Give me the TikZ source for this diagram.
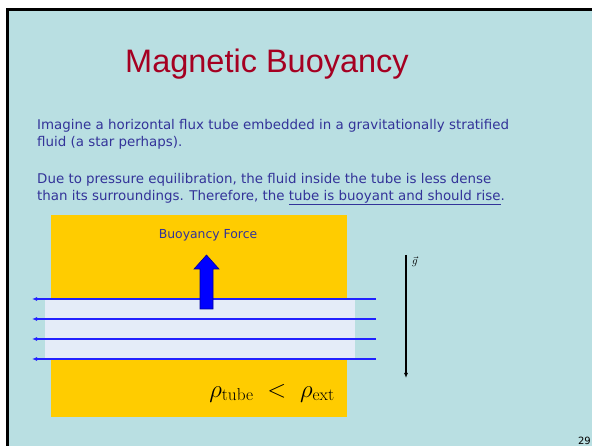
\documentclass[tikz,border=0pt]{standalone}
\usepackage[no-math]{fontspec}
\setmainfont{Liberation Sans}
\newfontfamily\bodyfont{DejaVu Sans}
\usetikzlibrary{arrows.meta,positioning,calc}
\definecolor{SlideBG}{HTML}{B9DFE2}
\definecolor{TitleRed}{HTML}{A50021}
\definecolor{TextBlue}{HTML}{333399}
\definecolor{StarGold}{HTML}{FFCC00}
\definecolor{TubeFill}{HTML}{E4ECF8}
\definecolor{FieldBlue}{HTML}{2222FF}

\begin{document}
\begin{tikzpicture}[x=1pt, y=-1pt,
    bodytext/.style={anchor=north west, align=left, inner sep=0pt,
                     text=TextBlue, font=\bodyfont\fontsize{13.4}{17}\selectfont},
    fieldline/.style={draw=FieldBlue, line width=1.4pt,
                      -{Latex[length=5pt,width=4pt]}}]
    \useasboundingbox (0,0) rectangle (592,446);
    \fill[white] (0,0) rectangle (592,446);
    \draw[line width=3pt, fill=SlideBG] (7.5,9.5) rectangle (610,460);

    % title and text
    \node[text=TitleRed, font=\fontsize{32.5}{33}\selectfont] (title) at (267,64)
      {Magnetic Buoyancy};
    \node[bodytext] (imagine) at (37,119)
      {Imagine a horizontal flux tube embedded in a gravitationally stratified\\
       fluid (a star perhaps).};
    \node[bodytext] (pressure) at (37,173)
      {Due to pressure equilibration, the fluid inside the tube is less dense\\
       than its surroundings. Therefore, the \underline{tube is buoyant and should rise}.};

    % star and flux tube
    \fill[StarGold] (51,215) rectangle (347,417);
    \fill[TubeFill] (45,300) rectangle (355,358);
    \foreach \i/\y in {1/299,2/319,3/339,4/359} {
      \coordinate (fr\i) at (376,\y);
      \coordinate (fl\i) at (32,\y);
      \draw[fieldline] (fr\i) -- (fl\i);
    }

    % buoyancy arrow
    \draw[fill=blue, draw=blue!60!black, line width=0.6pt]
      (200,309) -- (200,269) -- (194,269) -- (206.5,255) -- (219,269)
      -- (213,269) -- (213,309) -- cycle;
    \node[text=TextBlue, font=\bodyfont\fontsize{12.4}{13}\selectfont] (force) at (208,235)
      {Buoyancy Force};
    \node[anchor=base, font=\fontsize{24.5}{25}\selectfont] (rho) at (272,397)
      {$\rho_{\mathrm{tube}} \;<\; \rho_{\mathrm{ext}}$};

    % gravity
    \coordinate (gtop) at (406,255);
    \coordinate (gbot) at (406,378);
    \draw[line width=1.2pt, -{Latex[length=5pt,width=4pt]}] (gtop) -- (gbot);
    \node[anchor=north west, inner sep=0pt, font=\fontsize{11}{11}\selectfont]
      (glabel) at (412,256) {$\vec{g}$};

    \node[anchor=base east, inner sep=0pt, font=\bodyfont\fontsize{10}{10}\selectfont]
      (pagenum) at (591,444) {29};
  \end{tikzpicture}
\end{document}
